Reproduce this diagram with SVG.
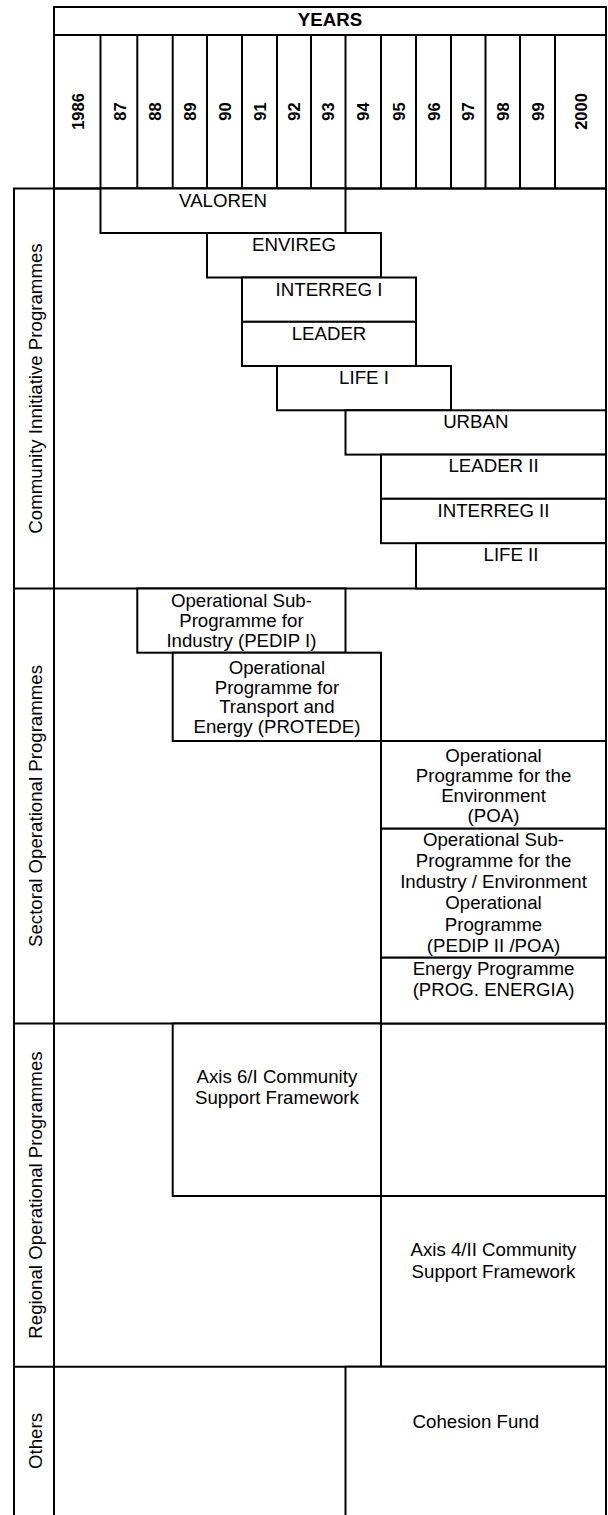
<svg xmlns="http://www.w3.org/2000/svg" width="608" height="1515" viewBox="0 0 608 1515">
<style>
  .ln{stroke:#000;stroke-width:2;fill:none}
  .bx{stroke:#000;stroke-width:2;fill:#fff}
  .t{font-family:"Liberation Sans",Arial,sans-serif;font-size:18.67px;fill:#000;text-anchor:middle}
  .yr{font-family:"Liberation Sans",Arial,sans-serif;font-size:16.5px;font-weight:bold;fill:#000;text-anchor:middle}
  .hd{font-family:"Liberation Sans",Arial,sans-serif;font-size:18.67px;font-weight:bold;fill:#000;text-anchor:middle}
</style>
<rect width="608" height="1515" fill="#fff"/>

<g id="frame">
  <rect class="ln" x="54" y="7" width="552" height="181.5"/>
  <line class="ln" x1="54" y1="35" x2="606" y2="35"/>
  <line class="ln" x1="100.5" y1="35" x2="100.5" y2="188.5"/>
  <line class="ln" x1="137.3" y1="35" x2="137.3" y2="188.5"/>
  <line class="ln" x1="172.7" y1="35" x2="172.7" y2="188.5"/>
  <line class="ln" x1="207" y1="35" x2="207" y2="188.5"/>
  <line class="ln" x1="242" y1="35" x2="242" y2="188.5"/>
  <line class="ln" x1="277" y1="35" x2="277" y2="188.5"/>
  <line class="ln" x1="311" y1="35" x2="311" y2="188.5"/>
  <line class="ln" x1="345.5" y1="35" x2="345.5" y2="188.5"/>
  <line class="ln" x1="381" y1="35" x2="381" y2="188.5"/>
  <line class="ln" x1="416" y1="35" x2="416" y2="188.5"/>
  <line class="ln" x1="451" y1="35" x2="451" y2="188.5"/>
  <line class="ln" x1="485.5" y1="35" x2="485.5" y2="188.5"/>
  <line class="ln" x1="520" y1="35" x2="520" y2="188.5"/>
  <line class="ln" x1="555" y1="35" x2="555" y2="188.5"/>
  <line class="ln" x1="14" y1="188.5" x2="14" y2="1516"/>
  <line class="ln" x1="54" y1="188.5" x2="54" y2="1516"/>
  <line class="ln" x1="606" y1="188.5" x2="606" y2="1516"/>
  <line class="ln" x1="13" y1="188.5" x2="607" y2="188.5"/>
  <line class="ln" x1="13" y1="588.5" x2="607" y2="588.5"/>
  <line class="ln" x1="13" y1="1023.5" x2="607" y2="1023.5"/>
  <line class="ln" x1="13" y1="1366.7" x2="607" y2="1366.7"/>
  <text class="hd" x="330" y="26">YEARS</text>
  <text class="yr" transform="translate(83.5,111.5) rotate(-90)">1986</text>
  <text class="yr" transform="translate(126,111.5) rotate(-90)">87</text>
  <text class="yr" transform="translate(161,111.5) rotate(-90)">88</text>
  <text class="yr" transform="translate(195.9,111.5) rotate(-90)">89</text>
  <text class="yr" transform="translate(230.5,111.5) rotate(-90)">90</text>
  <text class="yr" transform="translate(265.5,111.5) rotate(-90)">91</text>
  <text class="yr" transform="translate(300,111.5) rotate(-90)">92</text>
  <text class="yr" transform="translate(334.3,111.5) rotate(-90)">93</text>
  <text class="yr" transform="translate(369.3,111.5) rotate(-90)">94</text>
  <text class="yr" transform="translate(404.5,111.5) rotate(-90)">95</text>
  <text class="yr" transform="translate(439.5,111.5) rotate(-90)">96</text>
  <text class="yr" transform="translate(474.3,111.5) rotate(-90)">97</text>
  <text class="yr" transform="translate(508.8,111.5) rotate(-90)">98</text>
  <text class="yr" transform="translate(543.5,111.5) rotate(-90)">99</text>
  <text class="yr" transform="translate(586.5,111.5) rotate(-90)">2000</text>
</g>

<g id="sections">
  <text class="t" transform="translate(41.5,388.5) rotate(-90)">Community Innitiative Programmes</text>
  <text class="t" transform="translate(41.5,806) rotate(-90)">Sectoral Operational Programmes</text>
  <text class="t" transform="translate(41.5,1195) rotate(-90)">Regional Operational Programmes</text>
  <text class="t" transform="translate(41.5,1441) rotate(-90)">Others</text>
</g>

<g id="valoren"><rect class="bx" x="100.5" y="188.5" width="245" height="44.5"/><text class="t" x="223" y="207">VALOREN</text></g>
<g id="envireg"><rect class="bx" x="207" y="233" width="174" height="44.5"/><text class="t" x="294" y="251.3">ENVIREG</text></g>
<g id="interreg1"><rect class="bx" x="242" y="277.5" width="174" height="44.3"/><text class="t" x="329" y="295.6">INTERREG I</text></g>
<g id="leader"><rect class="bx" x="242" y="321.8" width="174" height="44.2"/><text class="t" x="329" y="339.9">LEADER</text></g>
<g id="life1"><rect class="bx" x="277" y="366" width="174" height="44.3"/><text class="t" x="364" y="384">LIFE I</text></g>
<g id="urban"><rect class="bx" x="345.5" y="410.3" width="260.5" height="44.3"/><text class="t" x="475.8" y="428.3">URBAN</text></g>
<g id="leader2"><rect class="bx" x="381" y="454.6" width="225" height="44.2"/><text class="t" x="493.5" y="472.4">LEADER II</text></g>
<g id="interreg2"><rect class="bx" x="381" y="498.8" width="225" height="44.4"/><text class="t" x="493.5" y="516.8">INTERREG II</text></g>
<g id="life2"><rect class="bx" x="416" y="543.2" width="190" height="45.3"/><text class="t" x="511" y="561.2">LIFE II</text></g>

<g id="pedip1"><rect class="bx" x="137.3" y="588.5" width="208.2" height="64.2"/>
  <text class="t"><tspan x="241.4" y="606.7">Operational Sub-</tspan><tspan x="241.4" y="627.2">Programme for</tspan><tspan x="241.4" y="647.3">Industry (PEDIP I)</tspan></text></g>
<g id="protede"><rect class="bx" x="172.7" y="652.7" width="208.3" height="88.3"/>
  <text class="t"><tspan x="276.9" y="674.3">Operational</tspan><tspan x="276.9" y="693.8">Programme for</tspan><tspan x="276.9" y="713.3">Transport and</tspan><tspan x="276.9" y="732.8">Energy (PROTEDE)</tspan></text></g>
<g id="poa"><rect class="bx" x="381" y="741" width="225" height="87.7"/>
  <text class="t"><tspan x="493.5" y="761.7">Operational</tspan><tspan x="493.5" y="781.7">Programme for the</tspan><tspan x="493.5" y="801.7">Environment</tspan><tspan x="493.5" y="821.5">(POA)</tspan></text></g>
<g id="pedip2"><rect class="bx" x="381" y="828.7" width="225" height="129"/>
  <text class="t"><tspan x="493.5" y="846">Operational Sub-</tspan><tspan x="493.5" y="867">Programme for the</tspan><tspan x="493.5" y="888.2">Industry / Environment</tspan><tspan x="493.5" y="909.4">Operational</tspan><tspan x="493.5" y="930.6">Programme</tspan><tspan x="493.5" y="951.8">(PEDIP II /POA)</tspan></text></g>
<g id="energia"><rect class="bx" x="381" y="957.7" width="225" height="65.8"/>
  <text class="t"><tspan x="493.5" y="974.5">Energy Programme</tspan><tspan x="493.5" y="995.8">(PROG. ENERGIA)</tspan></text></g>

<g id="axis6"><rect class="bx" x="172.7" y="1023.5" width="208.3" height="172.5"/>
  <text class="t"><tspan x="276.9" y="1083.3">Axis 6/I Community</tspan><tspan x="276.9" y="1104.3">Support Framework</tspan></text></g>
<g id="axis4"><rect class="bx" x="381" y="1196" width="225" height="170.7"/>
  <text class="t"><tspan x="493.5" y="1256">Axis 4/II Community</tspan><tspan x="493.5" y="1277.5">Support Framework</tspan></text></g>
<g id="cohesion"><rect class="bx" x="345.5" y="1366.7" width="260.5" height="160"/>
  <text class="t" x="475.8" y="1428.3">Cohesion Fund</text></g>

<g id="connectors"></g>
</svg>
